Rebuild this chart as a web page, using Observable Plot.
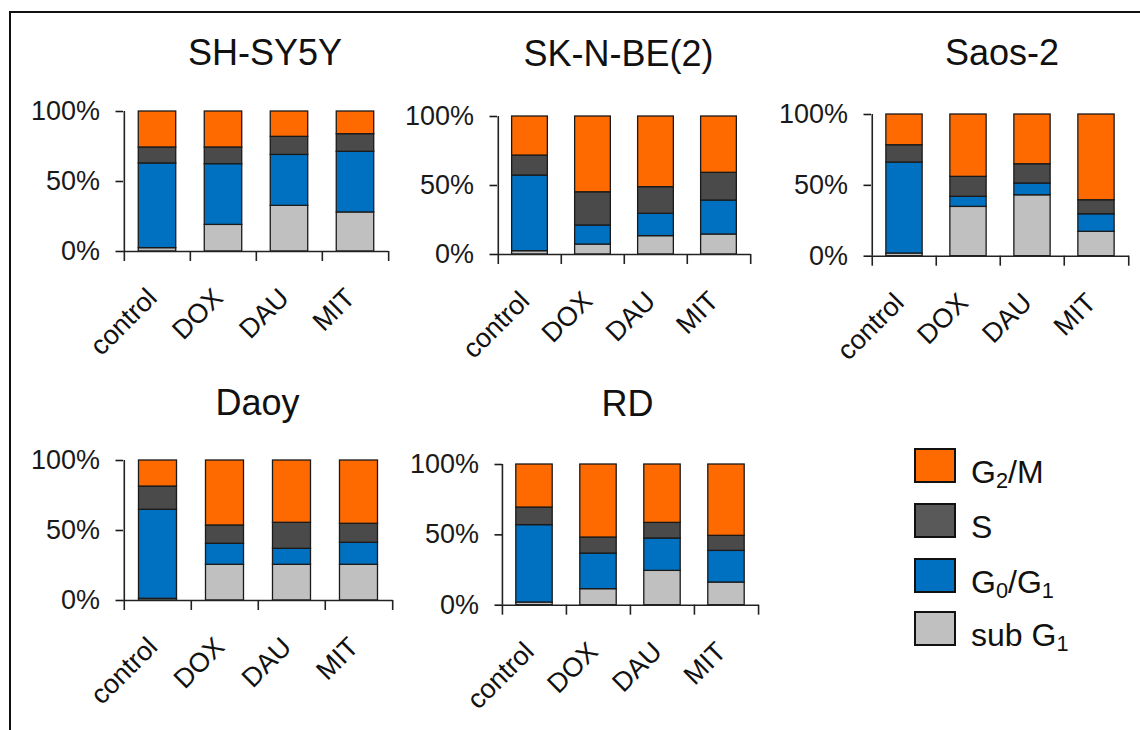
<!DOCTYPE html>
<html><head><meta charset="utf-8">
<script src="https://cdn.jsdelivr.net/npm/d3@7"></script>
<script src="https://cdn.jsdelivr.net/npm/@observablehq/plot@0.6"></script>
<style>
body{margin:0;background:#fff;font-family:"Liberation Sans",Arial,sans-serif;}
#root{position:relative;width:1140px;height:730px;overflow:hidden;background:#fff;}
#frame{position:absolute;left:9px;top:11px;width:1300px;height:900px;border-top:2px solid #111;border-left:2px solid #111;}
.panel{position:absolute;}
.panel svg{display:block;overflow:visible;}
.title{position:absolute;font-size:36px;line-height:36px;white-space:nowrap;transform:translateX(-50%);color:#111;}
.sw{position:absolute;width:38px;height:31px;border:2px solid #111;}
.lab{position:absolute;font-size:32px;line-height:32px;white-space:nowrap;color:#111;}
.lab sub{font-size:0.68em;vertical-align:-0.22em;line-height:0;}
</style>
</head><body>
<div id="root"><div id="frame"></div></div>
<script>
// ---- data ----
const cellLines = ["SH-SY5Y", "SK-N-BE(2)", "Saos-2", "Daoy", "RD"];
const treatments = ["control", "DOX", "DAU", "MIT"];
const phases = ["sub G1", "G0/G1", "S", "G2/M"];
const phaseLabels = ["sub G<sub>1</sub>", "G<sub>0</sub>/G<sub>1</sub>", "S", "G<sub>2</sub>/M"];
const phaseColors = ["#c0c0c0", "#0070c0", "#4a4a4a", "#ff6a00"];
// percent of cells per phase; rows = cell lines, columns = treatments
const subG1  = [[2.4, 19.0, 32.6, 27.9], [2.4, 7.2, 13.3, 14.5], [1.9, 34.8, 43.0, 17.2], [1.2, 25.5, 25.5, 25.5], [1.9, 11.4, 24.4, 16.1]];
const g0g1   = [[60.5, 43.4, 36.4, 43.3], [54.8, 13.8, 16.2, 24.6], [64.2, 7.1, 8.3, 12.4], [63.6, 15.0, 11.4, 15.7], [55.0, 25.3, 23.0, 22.5]];
const sPhase = [[11.4, 11.9, 12.9, 12.6], [14.5, 24.1, 19.3, 20.1], [12.2, 14.1, 13.6, 9.9], [16.6, 13.1, 18.6, 13.6], [12.5, 11.4, 11.1, 10.7]];
const g2m    = [[25.7, 25.7, 18.1, 16.2], [28.3, 54.9, 51.2, 40.8], [21.7, 44.0, 35.1, 60.5], [18.6, 46.4, 44.5, 45.2], [30.6, 51.9, 41.5, 50.7]];
const yTicks = [0, 50, 100];

// ---- layout (pixels) ----
const layout = [
  {left: 122.7, right: 388,   top: 110.7, bottom: 250.7, tx: 265,   ty: 65},
  {left: 497.3, right: 751,   top: 116,   bottom: 254,   tx: 618.5, ty: 66.7},
  {left: 871,   right: 1129,  top: 114.3, bottom: 256,   tx: 1002,  ty: 65},
  {left: 123.3, right: 393,   top: 460,   bottom: 600,   tx: 257.5, ty: 415},
  {left: 501.7, right: 758.3, top: 464.3, bottom: 605,   tx: 627.5, ty: 416.7}
];
const mL = 110, mR = 10, mT = 10, mB = 110;
const root = document.getElementById("root");
const font = "'Liberation Sans', Arial, sans-serif";
const series = [subG1, g0g1, sPhase, g2m];

layout.forEach((L, k) => {
  const pw = L.right - L.left, ph = L.bottom - L.top, bw = pw / 4;
  const rows = [];
  treatments.forEach((t, j) => series.forEach((arr, p) => rows.push({t, phase: phases[p], v: arr[k][j]})));
  const inset = bw * 0.215;
  const chart = Plot.plot({
    width: pw + mL + mR, height: ph + mT + mB,
    marginLeft: mL, marginRight: mR, marginTop: mT, marginBottom: mB,
    style: {fontFamily: font, background: "transparent", overflow: "visible", color: "#111"},
    x: {domain: treatments, padding: 0, axis: null},
    y: {domain: [0, 100], axis: null},
    color: {domain: phases, range: phaseColors},
    marks: [
      Plot.barY(rows, {x: "t", y: "v", fill: "phase", stroke: "#1a1a1a", strokeWidth: 1.3, insetLeft: inset, insetRight: inset}),
      Plot.ruleY([0], {stroke: "#222", strokeWidth: 1.6}),
      Plot.ruleX([treatments[0]], {dx: -bw / 2, stroke: "#222", strokeWidth: 1.6}),
      Plot.axisY({ticks: yTicks, tickFormat: d => d + "%", tickSize: 7.5, tickPadding: 16, fontSize: 27, strokeWidth: 1.6, color: "#1a1a1a", label: null}),
      Plot.axisX({tickSize: 10, dx: -bw / 2, tickFormat: () => "", strokeWidth: 1.6, color: "#222", label: null}),
      Plot.axisX({ticks: [treatments[3]], tickSize: 10, dx: bw / 2, tickFormat: () => "", strokeWidth: 1.6, color: "#222", label: null}),
      Plot.axisX({tickSize: 0, tickRotate: -45, tickPadding: 42, dx: -5, fontSize: 27, color: "#111", label: null})
    ]
  });
  const div = document.createElement("div");
  div.className = "panel";
  div.style.left = (L.left - mL) + "px";
  div.style.top = (L.top - mT) + "px";
  div.appendChild(chart);
  root.appendChild(div);
  const title = document.createElement("div");
  title.className = "title";
  title.textContent = cellLines[k];
  title.style.left = L.tx + "px";
  title.style.top = (L.ty - 30.5) + "px";
  root.appendChild(title);
});

// ---- legend (top to bottom: G2/M, S, G0/G1, sub G1) ----
const legTops = [448.3, 502.7, 558.3, 611];
[3, 2, 1, 0].forEach((p, i) => {
  const sw = document.createElement("div");
  sw.className = "sw";
  sw.style.left = "914px";
  sw.style.top = legTops[i] + "px";
  sw.style.background = p === 2 ? "#595959" : phaseColors[p];
  root.appendChild(sw);
  const lab = document.createElement("div");
  lab.className = "lab";
  lab.innerHTML = phaseLabels[p];
  lab.style.left = "971px";
  lab.style.top = (legTops[i] + 35 - 27) + "px";
  root.appendChild(lab);
});
</script>
</body></html>
